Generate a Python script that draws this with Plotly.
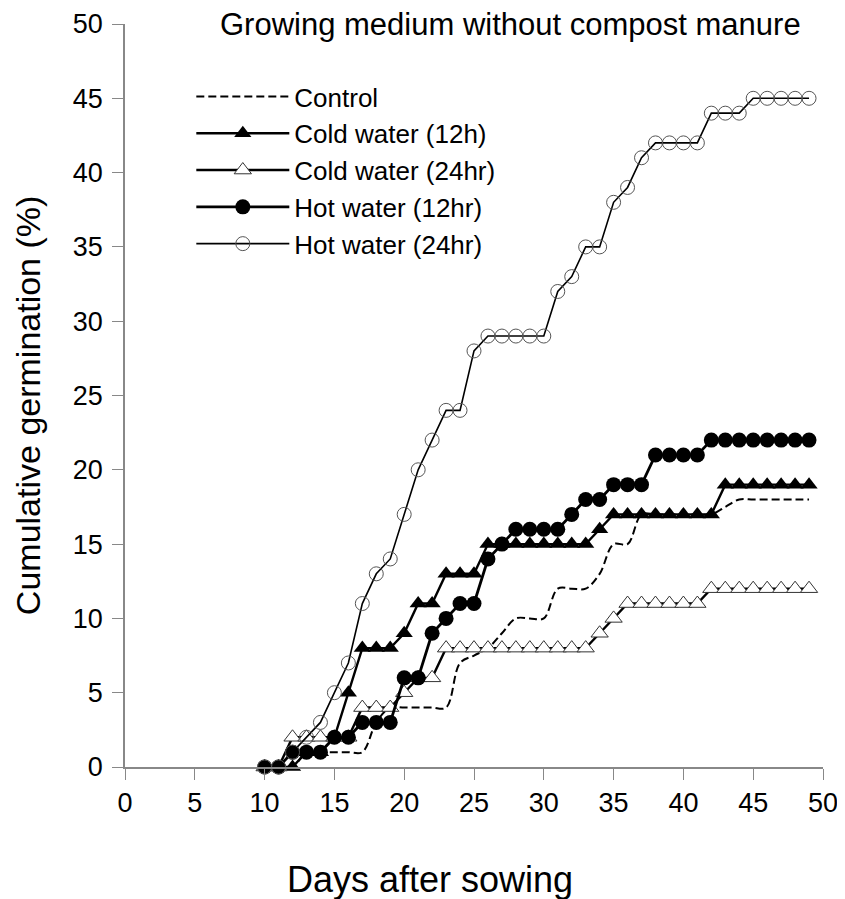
import plotly.graph_objects as go

days = list(range(10, 50))

control = [0, 0, 0, 1, 1, 1, 1, 1, 3, 4,
           4, 4, 4, 4, 7, 7.5, 8, 9, 10, 10,
           10, 12, 12, 12, 13, 15, 15, 17, 17, 17,
           17, 17, 17, 17.5, 18, 18, 18, 18, 18, 18]
cold_12 = [0, 0, 0, 1, 1, 2, 5, 8, 8, 8,
           9, 11, 11, 13, 13, 13, 15, 15, 15, 15,
           15, 15, 15, 15, 16, 17, 17, 17, 17, 17,
           17, 17, 17, 19, 19, 19, 19, 19, 19, 19]
cold_24 = [0, 0, 2, 2, 2, 2, 2, 4, 4, 4,
           5, 6, 6, 8, 8, 8, 8, 8, 8, 8,
           8, 8, 8, 8, 9, 10, 11, 11, 11, 11,
           11, 11, 12, 12, 12, 12, 12, 12, 12, 12]
hot_12 = [0, 0, 1, 1, 1, 2, 2, 3, 3, 3,
          6, 6, 9, 10, 11, 11, 14, 15, 16, 16,
          16, 16, 17, 18, 18, 19, 19, 19, 21, 21,
          21, 21, 22, 22, 22, 22, 22, 22, 22, 22]
hot_24 = [0, 0, 1, 2, 3, 5, 7, 11, 13, 14,
          17, 20, 22, 24, 24, 28, 29, 29, 29, 29,
          29, 32, 33, 35, 35, 38, 39, 41, 42, 42,
          42, 42, 44, 44, 44, 45, 45, 45, 45, 45]

x_ticks = list(range(0, 51, 5))
y_ticks = list(range(0, 51, 5))

FONT = "Liberation Sans, Arial, sans-serif"

fig = go.Figure()
fig.add_trace(go.Scatter(
    x=days, y=control, name="Control", mode="lines",
    line=dict(color="black", width=2, dash="8px,4px", shape="spline", smoothing=1.0),
    cliponaxis=False))
fig.add_trace(go.Scatter(
    x=days, y=cold_12, name="Cold water (12h)", mode="lines+markers",
    line=dict(color="black", width=2.4),
    marker=dict(symbol="triangle-up", size=15, color="black"),
    cliponaxis=False))
fig.add_trace(go.Scatter(
    x=days, y=cold_24, name="Cold water (24hr)", mode="lines+markers",
    line=dict(color="black", width=2.4),
    marker=dict(symbol="triangle-up", size=15, color="white",
                line=dict(color="#333333", width=1)),
    cliponaxis=False))
fig.add_trace(go.Scatter(
    x=days, y=hot_12, name="Hot water (12hr)", mode="lines+markers",
    line=dict(color="black", width=2.8),
    marker=dict(symbol="circle", size=15, color="black"),
    cliponaxis=False))
fig.add_trace(go.Scatter(
    x=days, y=hot_24, name="Hot water (24hr)", mode="lines+markers",
    line=dict(color="black", width=1.6),
    marker=dict(symbol="circle-open", size=14, color="#555555", line=dict(width=1)),
    cliponaxis=False))

fig.update_layout(
    width=837, height=891,
    margin=dict(l=117, r=22, t=16, b=132, autoexpand=False),
    paper_bgcolor="white", plot_bgcolor="white",
    font=dict(family=FONT, color="black", size=24),
    showlegend=True,
    legend=dict(x=0.095, y=0.934, xanchor="left", yanchor="top",
                bgcolor="rgba(0,0,0,0)", font=dict(size=26, family=FONT),
                itemwidth=93),
    annotations=[
        dict(text="Growing medium without compost manure", xref="paper", yref="paper",
             x=0.552, y=1.0, xanchor="center", yanchor="middle", showarrow=False,
             font=dict(size=31, family=FONT)),
        dict(text="Days after sowing", xref="paper", yref="paper",
             x=0.437, y=-0.152, xanchor="center", yanchor="middle", showarrow=False,
             font=dict(size=36, family=FONT)),
        dict(text="Cumulative germination (%)", xref="paper", yref="paper",
             x=-0.139, y=0.487, xanchor="center", yanchor="middle", showarrow=False,
             textangle=-90, font=dict(size=34, family=FONT)),
    ],
)
fig.update_xaxes(range=[0, 50], tickvals=x_ticks, ticks="outside", ticklen=11,
                 tickcolor="#888888", showline=True, linecolor="#888888", linewidth=1.5,
                 showgrid=False, zeroline=False, automargin=False,
                 tickfont=dict(size=27, family=FONT))
fig.update_yaxes(range=[0, 50], tickvals=y_ticks, ticks="outside", ticklen=11,
                 tickcolor="#888888", showline=True, linecolor="#888888", linewidth=1.5,
                 showgrid=False, zeroline=False, automargin=False, ticklabelstandoff=4,
                 tickfont=dict(size=27, family=FONT))

fig.write_html("out.html")
